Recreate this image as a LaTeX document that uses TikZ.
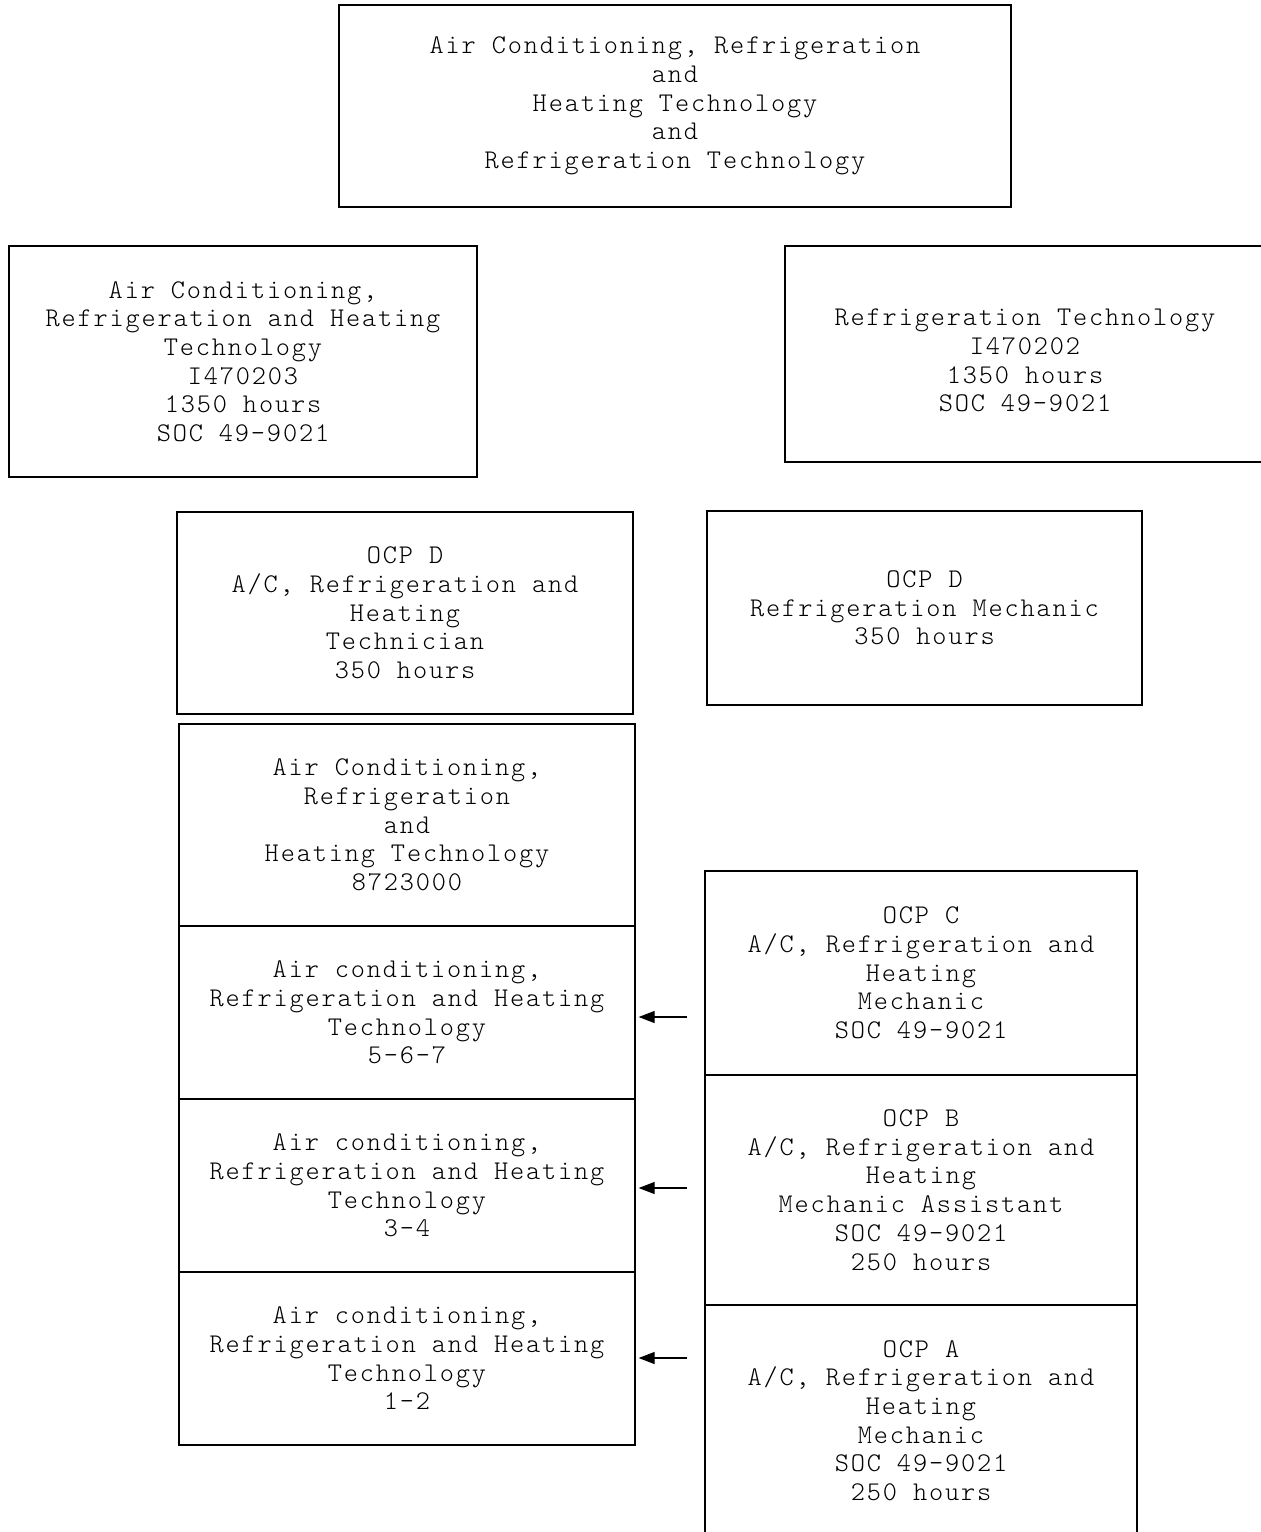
\documentclass[tikz,border=0pt]{standalone}
\usepackage{fontspec}
\setmonofont[LetterSpace=6.8]{Latin Modern Mono Light}
\usetikzlibrary{arrows.meta,calc}
\begin{document}
\begin{tikzpicture}[x=1pt,y=-1pt,
  box/.style={draw, line width=1.3pt, inner sep=0pt, align=center,
    font=\ttfamily\fontsize{27}{28.7}\selectfont},
  txt/.style={inner sep=0pt, align=center, font=\ttfamily\fontsize{27}{28.7}\selectfont},
  arr/.style={line width=1.3pt, -{Triangle[length=16pt,width=12pt]}}]
\useasboundingbox (0,0) rectangle (1261,1532);
\clip (0,0) rectangle (1261,1532);
% top
\node[box, minimum width=672pt, minimum height=202pt] (top) at (675,106)
  {Air Conditioning, Refrigeration\\and\\Heating Technology\\and\\Refrigeration Technology};
% second row
\node[box, minimum width=468pt, minimum height=231pt] (acr) at (243,361.5)
  {Air Conditioning,\\Refrigeration and Heating\\Technology\\I470203\\1350 hours\\SOC 49-9021};
\node[box, minimum width=515pt, minimum height=216pt] (rt) at (1042.5,354) {};
\node[txt] (rttxt) at (1025,360.5) {Refrigeration Technology\\I470202\\1350 hours\\SOC 49-9021};
% OCP D row
\node[box, minimum width=456pt, minimum height=202pt] (ocpdl) at (405,613)
  {OCP D\\A/C, Refrigeration and\\Heating\\Technician\\350 hours};
\node[box, minimum width=435pt, minimum height=194pt] (ocpdr) at (924.5,608)
  {OCP D\\Refrigeration Mechanic\\350 hours};
% left stack
\node[box, minimum width=456pt, minimum height=202pt] (s1) at (407,825)
  {Air Conditioning,\\Refrigeration\\and\\Heating Technology\\8723000};
\node[box, minimum width=456pt, minimum height=173pt] (s2) at (407,1012.5)
  {Air conditioning,\\Refrigeration and Heating\\Technology\\5-6-7};
\node[box, minimum width=456pt, minimum height=173pt] (s3) at (407,1185.5)
  {Air conditioning,\\Refrigeration and Heating\\Technology\\3-4};
\node[box, minimum width=456pt, minimum height=173pt] (s4) at (407,1358.5)
  {Air conditioning,\\Refrigeration and Heating\\Technology\\1-2};
% right stack
\node[box, minimum width=432pt, minimum height=204pt] (oc) at (921,973)
  {OCP C\\A/C, Refrigeration and\\Heating\\Mechanic\\SOC 49-9021};
\node[box, minimum width=432pt, minimum height=230pt] (ob) at (921,1190)
  {OCP B\\A/C, Refrigeration and\\Heating\\Mechanic Assistant\\SOC 49-9021\\250 hours};
\node[box, minimum width=432pt, minimum height=241pt] (oa) at (921,1425.5) {};
\node[txt] (oatxt) at (921,1420.5)
  {OCP A\\A/C, Refrigeration and\\Heating\\Mechanic\\SOC 49-9021\\250 hours};
% arrows
\draw[arr] ($(s2.east -| oc.west)+(-17,4.5)$) -- ($(s2.east)+(3,4.5)$);
\draw[arr] ($(s3.east -| ob.west)+(-17,2.5)$) -- ($(s3.east)+(3,2.5)$);
\draw[arr] ($(s4.east -| oa.west)+(-17,-0.5)$) -- ($(s4.east)+(3,-0.5)$);
\end{tikzpicture}
\end{document}
